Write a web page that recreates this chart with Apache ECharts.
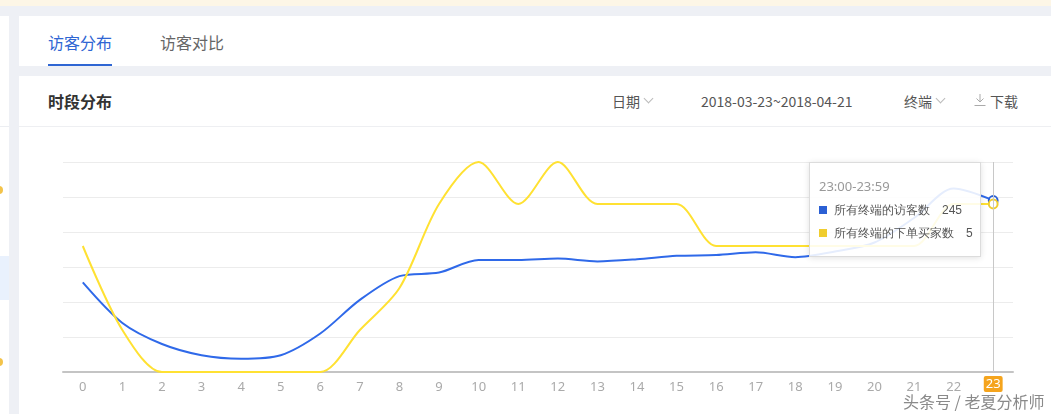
<!DOCTYPE html>
<html>
<head>
<meta charset="utf-8">
<script src="https://cdn.jsdelivr.net/npm/echarts@6/dist/echarts.min.js"></script>
<style>
  html, body { margin:0; padding:0; }
  body { width:1051px; height:414px; overflow:hidden; background:#eef0f5; position:relative;
         font-family:"Noto Sans CJK SC","Noto Sans",sans-serif; }
  .abs { position:absolute; }
  #topstrip { left:0; top:0; width:1051px; height:6px; background:#fdf6e6; }
  #leftpanel { left:0; top:16px; width:9px; height:398px; background:#fff; }
  #leftline { left:0; top:126px; width:9px; height:1px; background:#eceef2; }
  #lefthl { left:0; top:256px; width:9px; height:44px; background:#e9f1fd; }
  .odot { width:8px; height:8px; border-radius:50%; background:#f3c34a; left:-5px; }
  #card1 { left:19px; top:16px; width:1032px; height:50px; background:#fff; }
  #card2 { left:19px; top:76px; width:1032px; height:338px; background:#fff; }
  .tab { font-size:16px; line-height:20px; top:32px; white-space:nowrap; }
  #tab1 { left:48px; color:#2f66d3; }
  #tab2 { left:160px; color:#666; }
  #tabline { left:48px; top:64px; width:64px; height:2px; background:#2f66d3; }
  #title { left:48px; top:91px; font-size:16px; line-height:20px; font-weight:bold; color:#333; }
  #sep { left:19px; top:126px; width:1032px; height:1px; background:#eeeff2; }
  .ctl { font-size:14px; line-height:18px; top:92px; color:#555; white-space:nowrap; }
  .chev { width:6px; height:6px; border-right:1px solid #bbb; border-bottom:1px solid #bbb; transform:rotate(45deg); top:95px; }
  #chart { left:19px; top:127px; width:1032px; height:287px; }
  #wm { left:903px; top:391px; font-size:16px; line-height:20px; color:#8a8a8a; white-space:nowrap;
        text-shadow:0 0 2px #fff, 0 0 2px #fff; z-index:10; }
</style>
</head>
<body>
<div id="topstrip" class="abs"></div>
<div id="leftpanel" class="abs"></div>
<div id="leftline" class="abs"></div>
<div id="lefthl" class="abs"></div>
<div class="abs odot" style="top:186px"></div>
<div class="abs odot" style="top:358px"></div>
<div id="card1" class="abs"></div>
<div id="card2" class="abs"></div>
<div id="tab1" class="abs tab">访客分布</div>
<div id="tab2" class="abs tab">访客对比</div>
<div id="tabline" class="abs"></div>
<div id="title" class="abs">时段分布</div>
<div class="abs ctl" style="left:612px">日期</div>
<div class="abs chev" style="left:645px"></div>
<div class="abs ctl" style="left:701px">2018-03-23~2018-04-21</div>
<div class="abs ctl" style="left:904px">终端</div>
<div class="abs chev" style="left:937px"></div>
<svg class="abs" style="left:974px;top:94px" width="12" height="12" viewBox="0 0 12 12">
  <path d="M6 0 V8 M2.5 4.5 L6 8 L9.5 4.5 M0.5 11.5 H11.5" stroke="#aaa" stroke-width="1" fill="none"/>
</svg>
<div class="abs ctl" style="left:990px">下载</div>
<div id="sep" class="abs"></div>
<div id="chart" class="abs"></div>
<div id="wm" class="abs">头条号 / 老夏分析师</div>
<script>
// ---- data ----
const hours = ['0','1','2','3','4','5','6','7','8','9','10','11','12','13','14','15','16','17','18','19','20','21','22','23'];
const seriesNames = ['所有终端的访客数', '所有终端的下单买家数'];
const visitors = [128, 70, 40, 24, 19, 24, 55, 103, 137, 142, 160, 160, 162, 158, 161, 166, 167, 171, 164, 172, 185, 220, 262, 245];
const buyers   = [3, 1, 0, 0, 0, 0, 0, 1, 2, 4, 5, 4, 5, 4, 4, 4, 3, 3, 3, 3, 3, 3, 4, 4];
const tooltipValues = [245, 5];   // values printed in the reference tooltip
const activeIndex = 23;

const colors = ['#2b60d4', '#f0cd2e'];
const chart = echarts.init(document.getElementById('chart'), null, { renderer: 'canvas' });

function pad(h) { return String(h).padStart(2, '0'); }

chart.setOption({
  animation: false,
  grid: { left: 44, right: 38, top: 35, bottom: 42, containLabel: false, outerBoundsMode: 'none' },
  xAxis: {
    type: 'category',
    data: hours,
    boundaryGap: true,
    axisLine: { lineStyle: { color: '#c4c4c4', width: 2 } },
    axisTick: { show: false },
    axisLabel: { color: '#aaa', fontSize: 13, margin: 9, fontFamily: 'Noto Sans' },
    splitLine: { show: false },
    axisPointer: {
      type: 'line',
      lineStyle: { color: '#c8c8c8', width: 1, type: 'solid' },
      label: { show: true, backgroundColor: '#f5a41d', color: '#fff', fontSize: 13,
               padding: [2, 2, 1, 2], borderRadius: 2, margin: 4, fontFamily: 'Noto Sans',
               shadowBlur: 0, borderWidth: 0 }
    }
  },
  yAxis: [
    { type: 'value', min: 0, max: 300, interval: 50,
      axisLine: { show: false }, axisTick: { show: false }, axisLabel: { show: false },
      splitLine: { lineStyle: { color: '#ececec', width: 1 } } },
    { type: 'value', min: 0, max: 5,
      axisLine: { show: false }, axisTick: { show: false }, axisLabel: { show: false },
      splitLine: { show: false } }
  ],
  tooltip: {
    trigger: 'axis',
    triggerOn: 'none',
    alwaysShowContent: true,
    transitionDuration: 0,
    position: [790, 35],
    backgroundColor: 'rgba(255,255,255,0.88)',
    borderColor: '#dcdcdc',
    borderWidth: 1,
    padding: [13, 9, 11, 9],
    extraCssText: 'box-shadow:0 1px 6px rgba(0,0,0,0.12);border-radius:0;width:152px;',
    axisPointer: { type: 'line' },
    formatter: function (params) {
      const h = hours[params[0].dataIndex];
      let html = '<div style="font-size:13px;line-height:20px;color:#999;margin-bottom:3px;font-family:Noto Sans">' +
                 pad(h) + ':00-' + pad(h) + ':59</div>';
      params.forEach(function (p) {
        html += '<div style="font-size:12px;line-height:23px;color:#555;white-space:nowrap">' +
          '<span style="display:inline-block;width:8px;height:8px;background:' + colors[p.seriesIndex] +
          ';margin-right:7px;vertical-align:0px"></span>' + p.seriesName +
          '<span style="margin-left:12px">' + tooltipValues[p.seriesIndex] + '</span></div>';
      });
      return html;
    }
  },
  series: [
    { name: seriesNames[0], type: 'line', yAxisIndex: 0, data: visitors, smooth: 0.3,
      showSymbol: false, symbol: 'emptyCircle', symbolSize: 8,
      lineStyle: { color: colors[0], width: 2 }, itemStyle: { color: colors[0] },
      emphasis: { disabled: false, scale: true } },
    { name: seriesNames[1], type: 'line', yAxisIndex: 1, data: buyers, smooth: 0.3,
      showSymbol: false, symbol: 'emptyCircle', symbolSize: 8,
      lineStyle: { color: colors[1], width: 2 }, itemStyle: { color: colors[1] },
      emphasis: { disabled: false, scale: true } }
  ]
});

chart.dispatchAction({ type: 'showTip', seriesIndex: 0, dataIndex: activeIndex });
</script>
</body>
</html>
